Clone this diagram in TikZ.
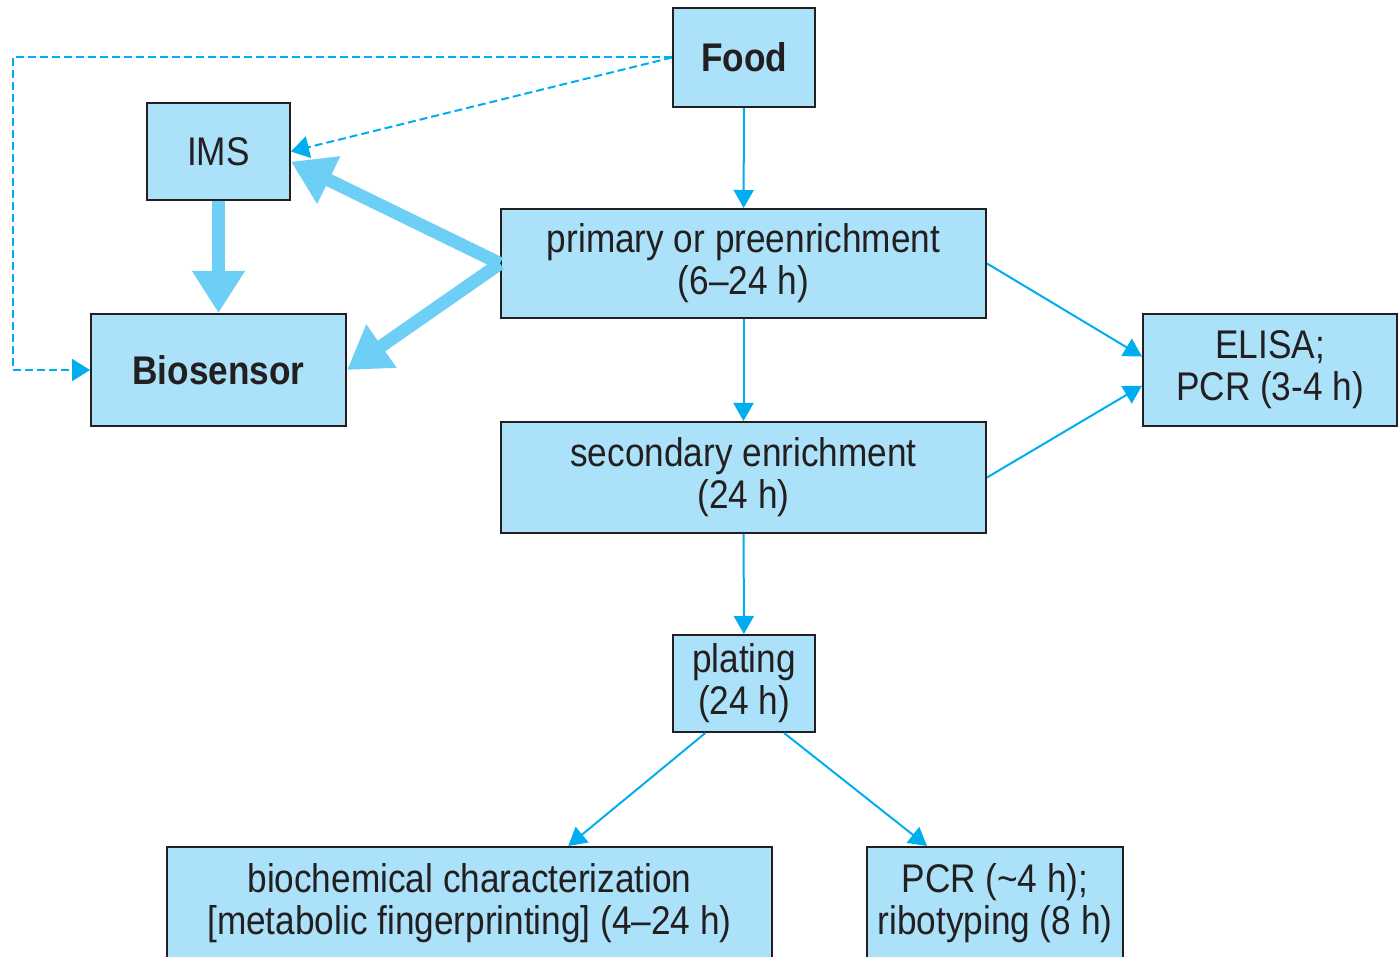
\documentclass[tikz,border=0pt]{standalone}
\usepackage{fontspec}
\setmainfont{Liberation Sans}[FakeStretch=0.88]
\usetikzlibrary{arrows.meta}
\definecolor{boxfill}{RGB}{171,225,249}
\definecolor{flowcol}{RGB}{0,174,239}
\definecolor{bigcol}{RGB}{109,207,246}
\definecolor{inkcol}{RGB}{35,31,32}

\begin{document}
\begin{tikzpicture}[scale=0.5,
box/.style={rectangle, draw=inkcol, line width=1pt, fill=boxfill, text=inkcol, align=center, inner sep=0pt, font=\fontsize{20}{21}\selectfont},
boldbox/.style={box, font=\fontsize{20}{21}\selectfont\bfseries},
flow/.style={draw=flowcol, line width=1pt, -{Triangle[length=9pt,width=10pt]}},
dashflow/.style={draw=flowcol, line width=1pt, dash pattern=on 4pt off 2pt, -{Triangle[length=9pt,width=11pt]}},
bigflow/.style={draw=bigcol, line width=6.5pt, -{Triangle[length=21pt,width=25pt]}}]
\clip (0pt,0pt) rectangle (1399pt,-957pt);
\node (food) [boldbox, minimum width=71pt, minimum height=49.5pt] at (744pt, -57.5pt) {Food};
\node (ims) [box, minimum width=71.5pt, minimum height=48.5pt] at (218.5pt, -151.5pt) {IMS};
\node (sensor) [boldbox, minimum width=127.5pt, minimum height=56pt] at (218.5pt, -370pt) {Biosensor};
\node (primary) [box, minimum width=242.5pt, minimum height=54.5pt] at (743.5pt, -263.5pt) {primary or preenrichment\\(6--24 h)};
\node (secondary) [box, minimum width=242.5pt, minimum height=55.5pt] at (743.5pt, -477.5pt) {secondary enrichment\\(24 h)};
\node (elisa) [box, minimum width=127pt, minimum height=56pt] at (1270pt, -370pt) {ELISA;\\PCR (3-4 h)};
\node (plating) [box, minimum width=71pt, minimum height=48.5pt] at (744pt, -683.5pt) {plating\\(24 h)};
\node (biochem) [box, minimum width=302.5pt, minimum height=56pt] at (469.5pt, -903pt) {biochemical characterization\\{}[metabolic fingerprinting] (4--24 h)};
\node (typing) [box, minimum width=128pt, minimum height=56pt] at (995pt, -903pt) {PCR (\textasciitilde4 h);\\ribotyping (8 h)};
\draw [flow] (food) to (primary);
\draw [flow] (primary) to (secondary);
\draw [flow] (secondary) to (plating);
\draw [flow] (primary.east) to (elisa.174);
\draw [flow] (secondary.east) to (elisa.187);
\draw [flow] (plating.232) to (biochem.30);
\draw [flow] (plating.309) to (typing.140);
\draw [dashflow] (food.west) -- (13pt, -57.5pt) |- (sensor.west);
\draw [dashflow] (food.west) to (ims.east);
\draw [bigflow] (ims) to (sensor);
\draw [bigflow] (primary.west) to (ims.-8);
\draw [bigflow] (primary.west) to (sensor.east);
\end{tikzpicture}
\end{document}
